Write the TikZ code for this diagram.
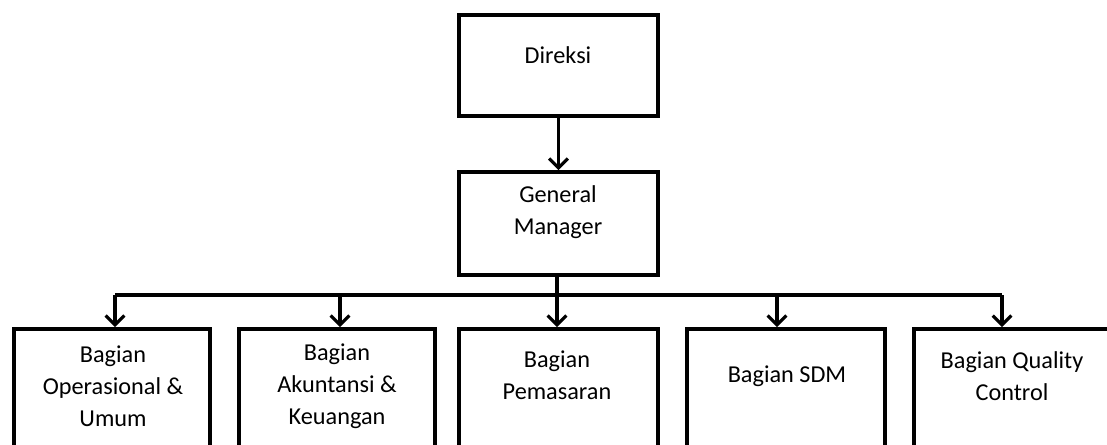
\documentclass[tikz,border=0pt]{standalone}
\usepackage{fontspec}
\setmainfont{Carlito}
\usetikzlibrary{arrows.meta,fit}
\begin{document}
\begin{tikzpicture}[x=0.75pt,y=-0.75pt,
  box/.style={draw, line width=2.9pt, inner sep=0pt},
  lbl/.style={align=center, font=\fontsize{18.2}{24}\selectfont, inner sep=0pt},
  conn/.style={line width=2.3pt},
  arr/.style={conn, -{Straight Barb[length=7pt,width=14pt]}}]
\useasboundingbox[fill=white] (0,0) rectangle (1107,444);
% boxes
\node[box, fit={(459,15) (658,116)}] (d) {};
\node[box, fit={(459,172) (658,275)}] (g) {};
\node[box, fit={(14,329) (210,480)}] (b1) {};
\node[box, fit={(239,329) (435,480)}] (b2) {};
\node[box, fit={(459,329) (658,480)}] (b3) {};
\node[box, fit={(687,329) (885,480)}] (b4) {};
\node[box, fit={(914,329) (1125,480)}] (b5) {};
% labels
\node[lbl] (td) at (558,55) {Direksi};
\node[lbl] (tg) at (558,212) {General\\Manager};
\node[lbl] (t1) at (113,386) {Bagian\\Operasional \&\\Umum};
\node[lbl] (t2) at (337,386) {Bagian\\Akuntansi \&\\Keuangan};
\node[lbl] (t3) at (557,375) {Bagian\\Pemasaran};
\node[lbl] (t4) at (787,376) {Bagian SDM};
\node[lbl] (t5) at (1012,376) {Bagian Quality\\Control};
% connectors
\coordinate (a1) at (115,295);
\coordinate (a2) at (340,295);
\coordinate (a3) at (557,295);
\coordinate (a4) at (777,295);
\coordinate (a5) at (1002,295);
\draw[arr] (d.south) -- (g.north);
\draw[conn] (g.south -| a3) -- (a3);
\draw[conn] (a1) -- (a5);
\draw[arr] (a1) -- (a1 |- b1.north);
\draw[arr] (a2) -- (a2 |- b2.north);
\draw[arr] (a3) -- (a3 |- b3.north);
\draw[arr] (a4) -- (a4 |- b4.north);
\draw[arr] (a5) -- (a5 |- b5.north);
\end{tikzpicture}
\end{document}
